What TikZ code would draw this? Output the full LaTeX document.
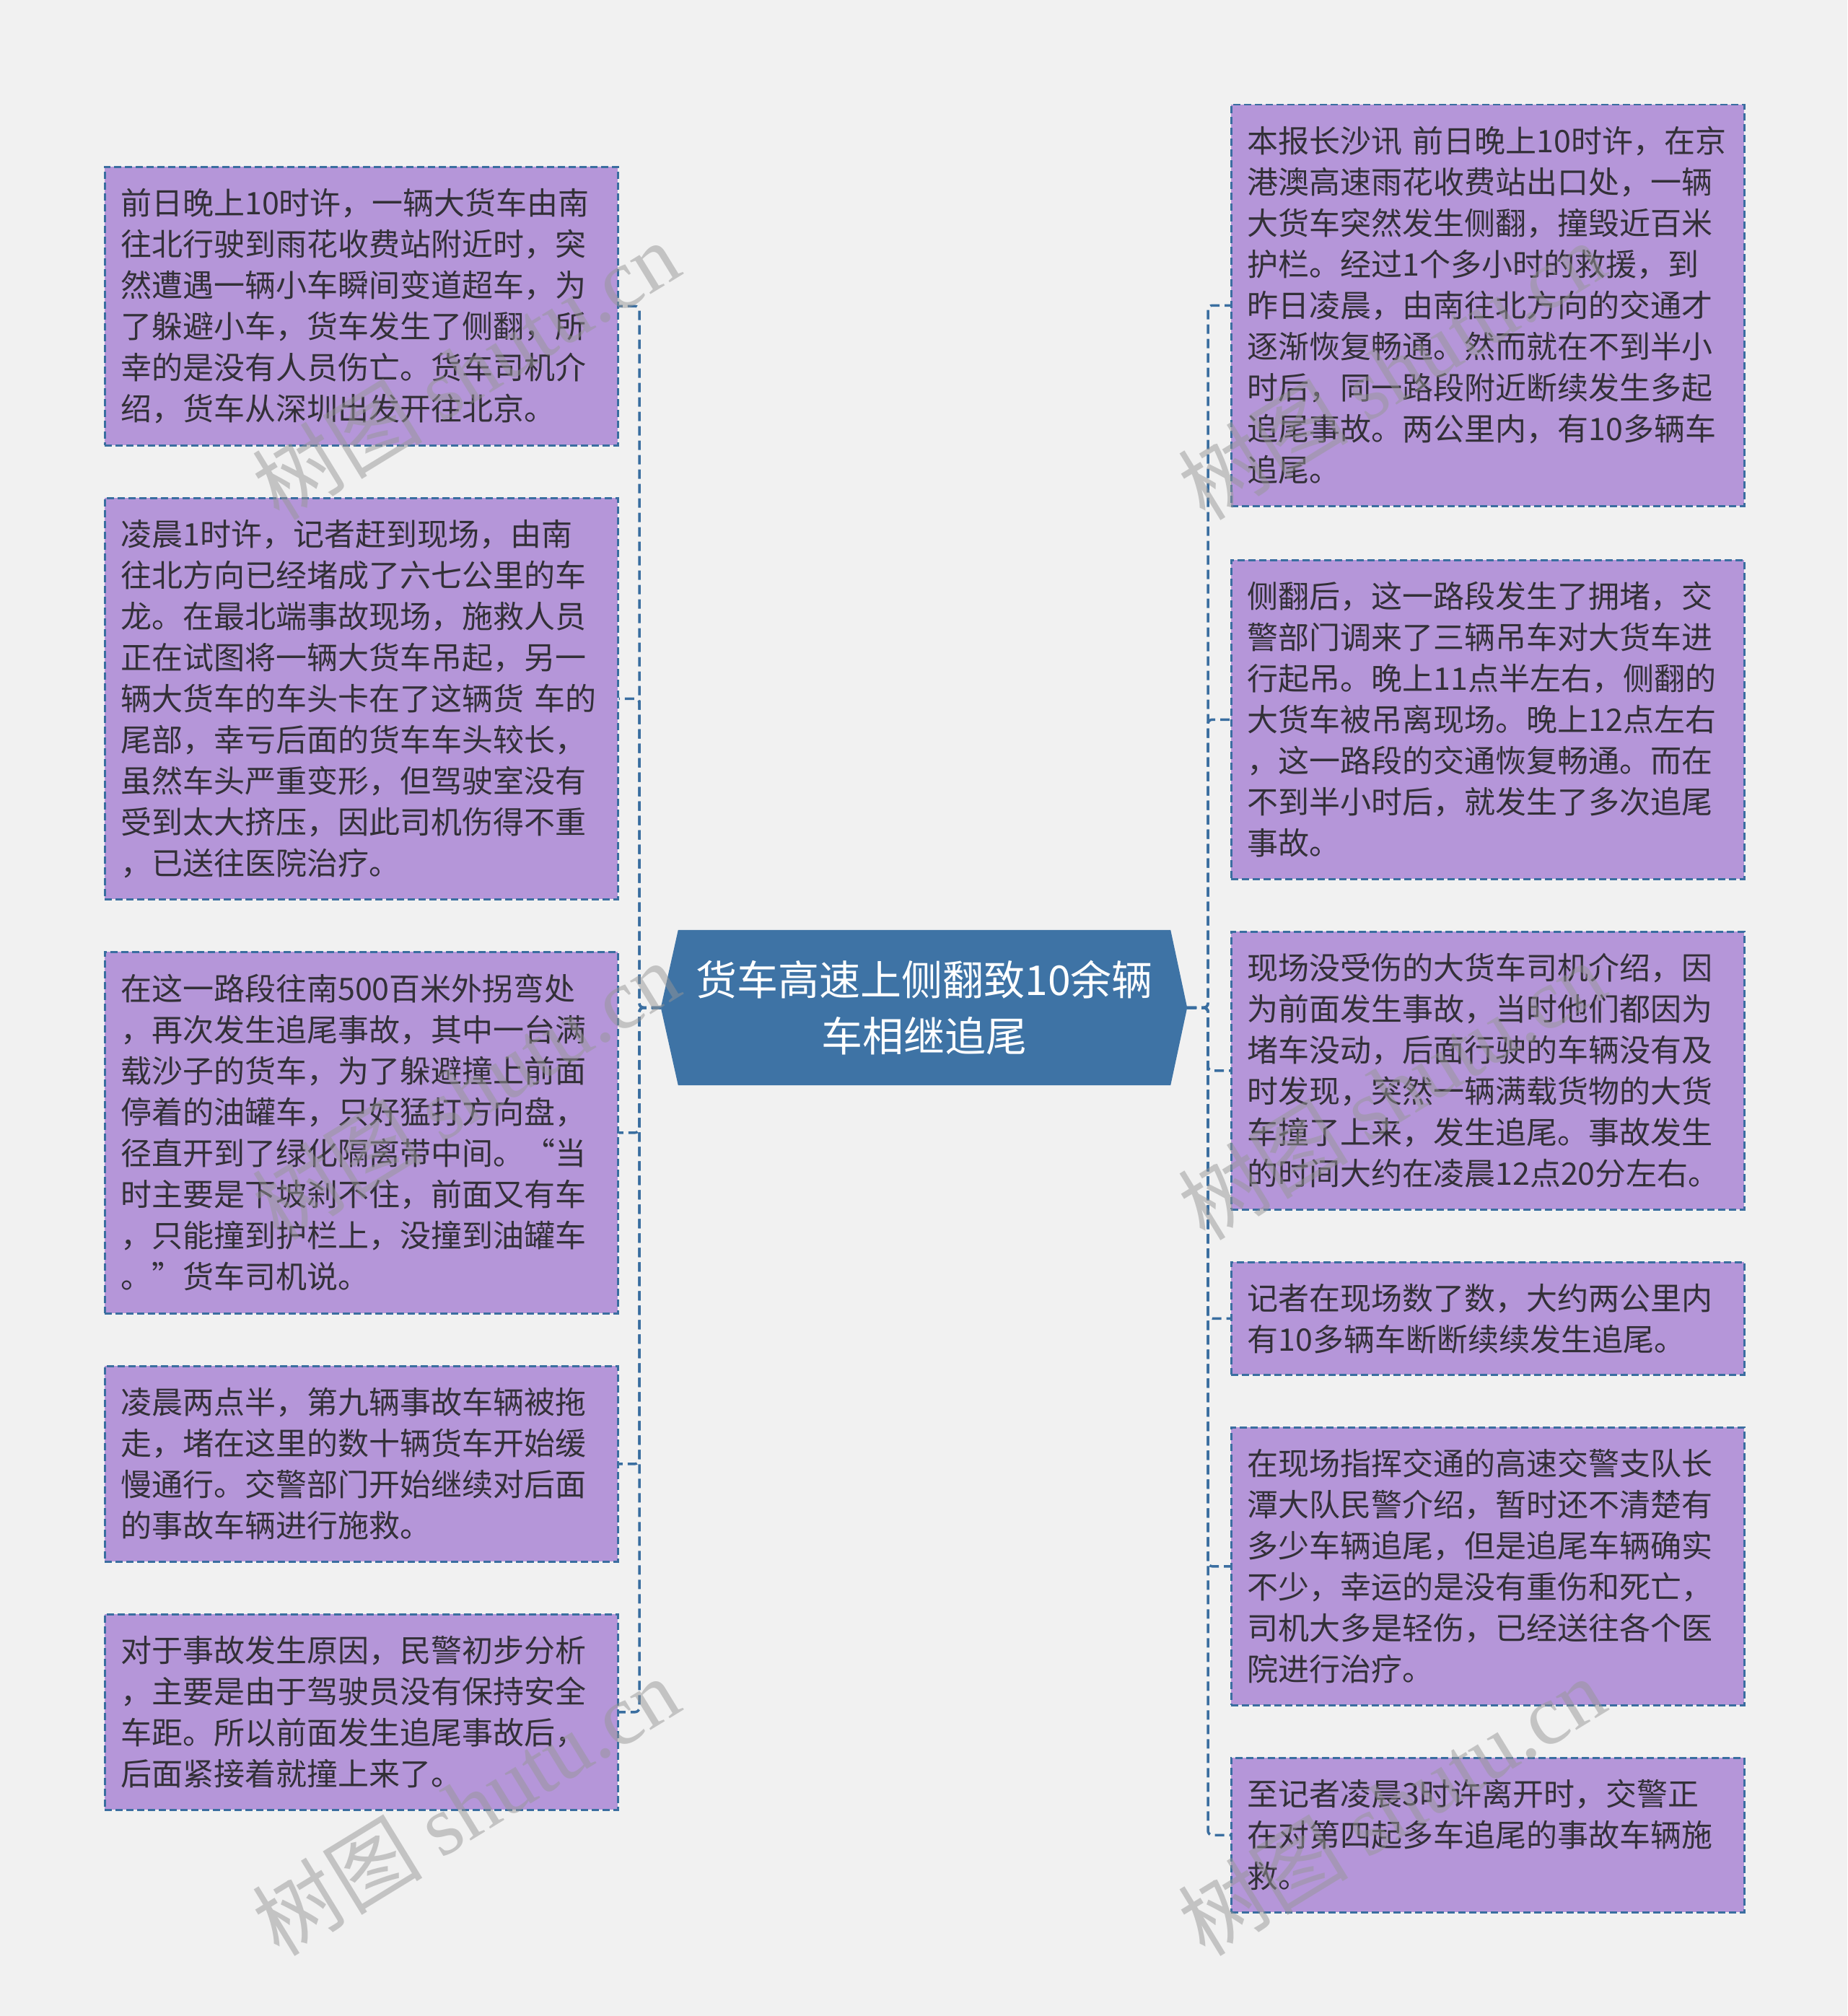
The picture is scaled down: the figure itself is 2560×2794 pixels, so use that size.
\documentclass[tikz,border=0pt]{standalone}
\usepackage{fontspec}
\newfontfamily\cjk{Noto Sans CJK SC}
\newfontfamily\wmserif{Liberation Serif}
\usetikzlibrary{calc}
\setlength{\lineskiplimit}{-100pt}
\definecolor{bgc}{RGB}{241,241,241}
\definecolor{boxc}{RGB}{181,150,217}
\definecolor{linec}{RGB}{58,110,160}
\definecolor{centerc}{RGB}{62,115,165}
\definecolor{textc}{RGB}{51,48,56}
\definecolor{wmc}{RGB}{150,150,150}
\pgfdeclarelayer{back}
\pgfdeclarelayer{bg}
\pgfsetlayers{back,bg,main}
\newcommand\leaffont{\cjk\fontsize{43}{57}\selectfont}
\newcommand\centerfont{\cjk\fontsize{57}{78}\selectfont}
\newcommand\wmtext{{\cjk\fontsize{118}{118}\selectfont 树图 }{\wmserif\fontsize{118}{118}\selectfont shutu.cn}}
\tikzset{
  leafbox/.style={draw=linec, fill=boxc, dash pattern=on 10pt off 5pt, line width=2.5pt,
    text=textc, font=\leaffont,
    align=left, text width=667pt, inner xsep=22pt, inner ysep=0pt,
    minimum width=711pt, anchor=north west},
  centerbox/.style={text=white, font=\centerfont,
    align=center, minimum width=682pt, minimum height=215pt, inner sep=0pt},
  conn/.style={draw=linec, line width=3.5pt, dash pattern=on 13pt off 7pt, rounded corners=6pt},
  wmark/.style={text=wmc, opacity=0.5, rotate=31.5, inner sep=0pt}
}
\begin{document}
\begin{tikzpicture}[x=1pt,y=-1pt]
\begin{pgfonlayer}{back}
\fill[bgc] (0,0) rectangle (2560,2794);
\end{pgfonlayer}
\useasboundingbox (0,0) rectangle (2560,2794);

% center
\node[centerbox] (c) at (1281,1396.5) {货车高速上侧翻致10余辆\\车相继追尾};
\begin{pgfonlayer}{bg}
\fill[centerc] (c.north west) -- (c.north east) -- ([xshift=23pt]c.east) -- (c.south east)
  -- (c.south west) -- ([xshift=-24pt]c.west) -- cycle;
\end{pgfonlayer}
\coordinate (cL) at ([xshift=-24pt]c.west);
\coordinate (cR) at ([xshift=23pt]c.east);
\coordinate (busL) at (886,0);
\coordinate (busR) at (1674,0);

% left boxes
\node[leafbox, minimum height=386pt] (L1) at (144,230) {前日晚上10时许，一辆大货车由南\\往北行驶到雨花收费站附近时，突\\然遭遇一辆小车瞬间变道超车，为\\了躲避小车，货车发生了侧翻，所\\幸的是没有人员伤亡。货车司机介\\绍，货车从深圳出发开往北京。};
\node[leafbox, minimum height=556pt] (L2) at (144,689) {凌晨1时许，记者赶到现场，由南\\往北方向已经堵成了六七公里的车\\龙。在最北端事故现场，施救人员\\正在试图将一辆大货车吊起，另一\\辆大货车的车头卡在了这辆货 车的\\尾部，幸亏后面的货车车头较长，\\虽然车头严重变形，但驾驶室没有\\受到太大挤压，因此司机伤得不重\\，已送往医院治疗。};
\node[leafbox, minimum height=501pt] (L3) at (144,1318) {在这一路段往南500百米外拐弯处\\，再次发生追尾事故，其中一台满\\载沙子的货车，为了躲避撞上前面\\停着的油罐车，只好猛打方向盘，\\径直开到了绿化隔离带中间。“当\\时主要是下坡刹不住，前面又有车\\，只能撞到护栏上，没撞到油罐车\\。”货车司机说。};
\node[leafbox, minimum height=271pt] (L4) at (144,1892) {凌晨两点半，第九辆事故车辆被拖\\走，堵在这里的数十辆货车开始缓\\慢通行。交警部门开始继续对后面\\的事故车辆进行施救。};
\node[leafbox, minimum height=271pt] (L5) at (144,2236) {对于事故发生原因，民警初步分析\\，主要是由于驾驶员没有保持安全\\车距。所以前面发生追尾事故后，\\后面紧接着就撞上来了。};

% right boxes
\node[leafbox, minimum height=556pt] (R1) at (1705,144) {本报长沙讯 前日晚上10时许，在京\\港澳高速雨花收费站出口处，一辆\\大货车突然发生侧翻，撞毁近百米\\护栏。经过1个多小时的救援，到\\昨日凌晨，由南往北方向的交通才\\逐渐恢复畅通。然而就在不到半小\\时后，同一路段附近断续发生多起\\追尾事故。两公里内，有10多辆车\\追尾。};
\node[leafbox, minimum height=442pt] (R2) at (1705,775) {侧翻后，这一路段发生了拥堵，交\\警部门调来了三辆吊车对大货车进\\行起吊。晚上11点半左右，侧翻的\\大货车被吊离现场。晚上12点左右\\，这一路段的交通恢复畅通。而在\\不到半小时后，就发生了多次追尾\\事故。};
\node[leafbox, minimum height=385pt] (R3) at (1705,1290) {现场没受伤的大货车司机介绍，因\\为前面发生事故，当时他们都因为\\堵车没动，后面行驶的车辆没有及\\时发现，突然一辆满载货物的大货\\车撞了上来，发生追尾。事故发生\\的时间大约在凌晨12点20分左右。};
\node[leafbox, minimum height=156pt] (R4) at (1705,1748) {记者在现场数了数，大约两公里内\\有10多辆车断断续续发生追尾。};
\node[leafbox, minimum height=385pt] (R5) at (1705,1977) {在现场指挥交通的高速交警支队长\\潭大队民警介绍，暂时还不清楚有\\多少车辆追尾，但是追尾车辆确实\\不少，幸运的是没有重伤和死亡，\\司机大多是轻伤，已经送往各个医\\院进行治疗。};
\node[leafbox, minimum height=214pt] (R6) at (1705,2435) {至记者凌晨3时许离开时，交警正\\在对第四起多车追尾的事故车辆施\\救。};

% connectors
\foreach \n in {L1,L2,L3,L4,L5}{
  \draw[conn] (cL) -- (busL |- cL) |- (\n.east);
}
\foreach \n in {R1,R2,R3,R4,R5,R6}{
  \draw[conn] (cR) -- (busR |- cR) |- (\n.west);
}

% watermarks
\node[wmark] (w1) at (645,513) {\wmtext};
\node[wmark] (w2) at (645,1511) {\wmtext};
\node[wmark] (w3) at (645,2503) {\wmtext};
\node[wmark] (w4) at (1928,513) {\wmtext};
\node[wmark] (w5) at (1928,1511) {\wmtext};
\node[wmark] (w6) at (1928,2503) {\wmtext};
\end{tikzpicture}
\end{document}
